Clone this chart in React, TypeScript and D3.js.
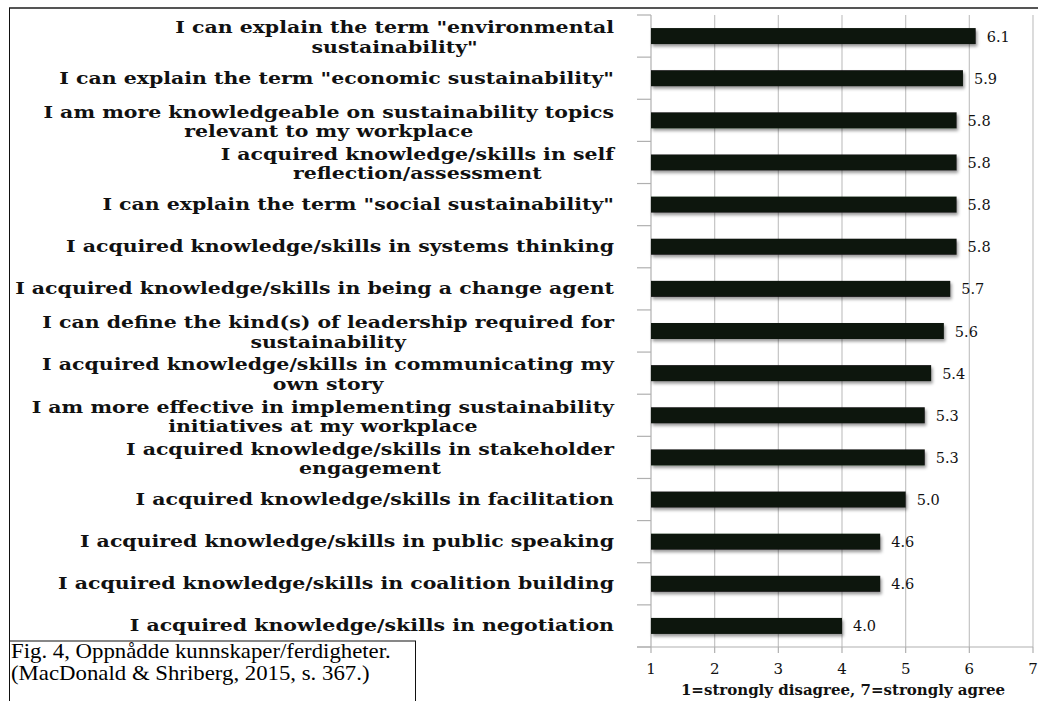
import React from "react";
import * as d3 from "d3";

const categories: string[][] = [
  ['I can explain the term "environmental', 'sustainability"'],
  ['I can explain the term "economic sustainability"'],
  ["I am more knowledgeable on sustainability topics", "relevant to my workplace"],
  ["I acquired knowledge/skills in self", "reflection/assessment"],
  ['I can explain the term "social sustainability"'],
  ["I acquired knowledge/skills in systems thinking"],
  ["I acquired knowledge/skills in being a change agent"],
  ["I can define the kind(s) of leadership required for", "sustainability"],
  ["I acquired knowledge/skills in communicating my", "own story"],
  ["I am more effective in implementing sustainability", "initiatives at my workplace"],
  ["I acquired knowledge/skills in stakeholder", "engagement"],
  ["I acquired knowledge/skills in facilitation"],
  ["I acquired knowledge/skills in public speaking"],
  ["I acquired knowledge/skills in coalition building"],
  ["I acquired knowledge/skills in negotiation"],
];
const values: number[] = [6.1, 5.9, 5.8, 5.8, 5.8, 5.8, 5.7, 5.6, 5.4, 5.3, 5.3, 5.0, 4.6, 4.6, 4.0];
const tickValues: number[] = [1, 2, 3, 4, 5, 6, 7];
const axisTitle = "1=strongly disagree, 7=strongly agree";
const captionLines: string[] = [
  "Fig. 4, Oppnådde kunnskaper/ferdigheter.",
  "(MacDonald & Shriberg, 2015, s. 367.)",
];

const W = 1038;
const H = 701;
const serif = "'DejaVu Serif', serif";

export default function App() {
  const keys = categories.map((c, i) => String(i));
  const x = d3.scaleLinear().domain([1, 7]).range([651, 1033]);
  const y = d3.scaleBand<string>().domain(keys).range([15, 647]).padding(0);
  const step = y.step();
  const barH = step * 0.38;
  const labelRight = 614;

  return (
    <svg
      width={W}
      height={H}
      style={{ position: "absolute", left: 0, top: 0, background: "#fff" }}
    >
      <defs>
        <filter id="sh" x="-5%" y="-40%" width="115%" height="200%">
          <feDropShadow dx="1.5" dy="2.5" stdDeviation="1.6" floodColor="#000" floodOpacity="0.4" />
        </filter>
      </defs>
      <rect x={0} y={0} width={W} height={H} fill="#fff" />
      {/* page frame */}
      <line x1={9} x2={W} y1={8} y2={8} stroke="#555" strokeWidth={2} />
      <line x1={9.5} x2={9.5} y1={8} y2={H} stroke="#111" strokeWidth={1} />

      {/* gridlines */}
      {tickValues.slice(1).map((t) => (
        <line key={"g" + t} x1={x(t)} x2={x(t)} y1={15} y2={647} stroke="#c4c4c4" strokeWidth={1.2} />
      ))}
      {/* category axis */}
      <line x1={x(1)} x2={x(1)} y1={15} y2={647} stroke="#b0b0b0" strokeWidth={1.2} />
      {keys.concat(["end"]).map((k, i) => {
        const yy = 15 + i * step;
        return <line key={"yt" + i} x1={637} x2={x(1)} y1={yy} y2={yy} stroke="#b0b0b0" strokeWidth={1.2} />;
      })}
      {/* value axis */}
      <line x1={637} x2={x(7)} y1={647} y2={647} stroke="#b0b0b0" strokeWidth={1.2} />
      {tickValues.map((t) => (
        <line key={"xt" + t} x1={x(t)} x2={x(t)} y1={647} y2={653} stroke="#b0b0b0" strokeWidth={1.2} />
      ))}
      {tickValues.map((t) => (
        <text key={"xl" + t} x={x(t)} y={674} textAnchor="middle" fontFamily={serif} fontSize={15} fill="#111">
          {t}
        </text>
      ))}
      <text x={843} y={695} textAnchor="middle" fontFamily={serif} fontWeight="bold" fontSize={15} fill="#111">
        {axisTitle}
      </text>

      {/* bars */}
      {values.map((v, i) => {
        const top = (y(keys[i]) as number) + step * 0.31;
        return (
          <rect
            key={"b" + i}
            x={x(1)}
            y={top}
            width={x(v) - x(1)}
            height={barH}
            fill="#10140f"
            filter="url(#sh)"
          />
        );
      })}
      {values.map((v, i) => {
        const cy = (y(keys[i]) as number) + step / 2;
        return (
          <text key={"v" + i} x={x(v) + 11} y={cy + 5.5} fontFamily={serif} fontSize={14.5} fill="#111">
            {v.toFixed(1)}
          </text>
        );
      })}

      {/* category labels */}
      {categories.map((lines, i) => {
        const cy = (y(keys[i]) as number) + step / 2;
        return <CatLabel key={"c" + i} lines={lines} cy={cy} right={labelRight} />;
      })}

      {/* caption box */}
      <rect x={9.5} y={641} width={406} height={70} fill="#fff" stroke="#111" strokeWidth={1} />
      <g transform="translate(11,0) scale(1.14,1)">
        {captionLines.map((l, i) => (
          <text key={"cap" + i} x={0} y={658 + i * 22} fontFamily="'Liberation Serif', serif" fontSize={20} fill="#000">
            {l}
          </text>
        ))}
      </g>
    </svg>
  );
}

function CatLabel({ lines, cy, right }: { lines: string[]; cy: number; right: number }) {
  const ref = React.useRef<SVGGElement>(null);
  React.useLayoutEffect(() => {
    const g = ref.current;
    if (!g) return;
    const texts = Array.from(g.querySelectorAll("text")) as SVGTextElement[];
    if (texts.length < 2) return;
    const widths = texts.map((t) => t.getComputedTextLength());
    const maxW = Math.max(...widths);
    texts.forEach((t) => {
      t.setAttribute("x", String(-maxW / 2));
      t.setAttribute("text-anchor", "middle");
    });
  }, [lines]);
  const lh = 19.5;
  const shift = lines.length > 1 ? 1.5 : 0;
  return (
    <g ref={ref} transform={`translate(${right},0) scale(1.28,1)`}>
      {lines.map((l, j) => (
        <text
          key={j}
          x={0}
          y={cy + 5.5 + shift + (j - (lines.length - 1) / 2) * lh}
          textAnchor="end"
          fontFamily={serif}
          fontWeight="bold"
          fontSize={16}
          fill="#111"
        >
          {l}
        </text>
      ))}
    </g>
  );
}
